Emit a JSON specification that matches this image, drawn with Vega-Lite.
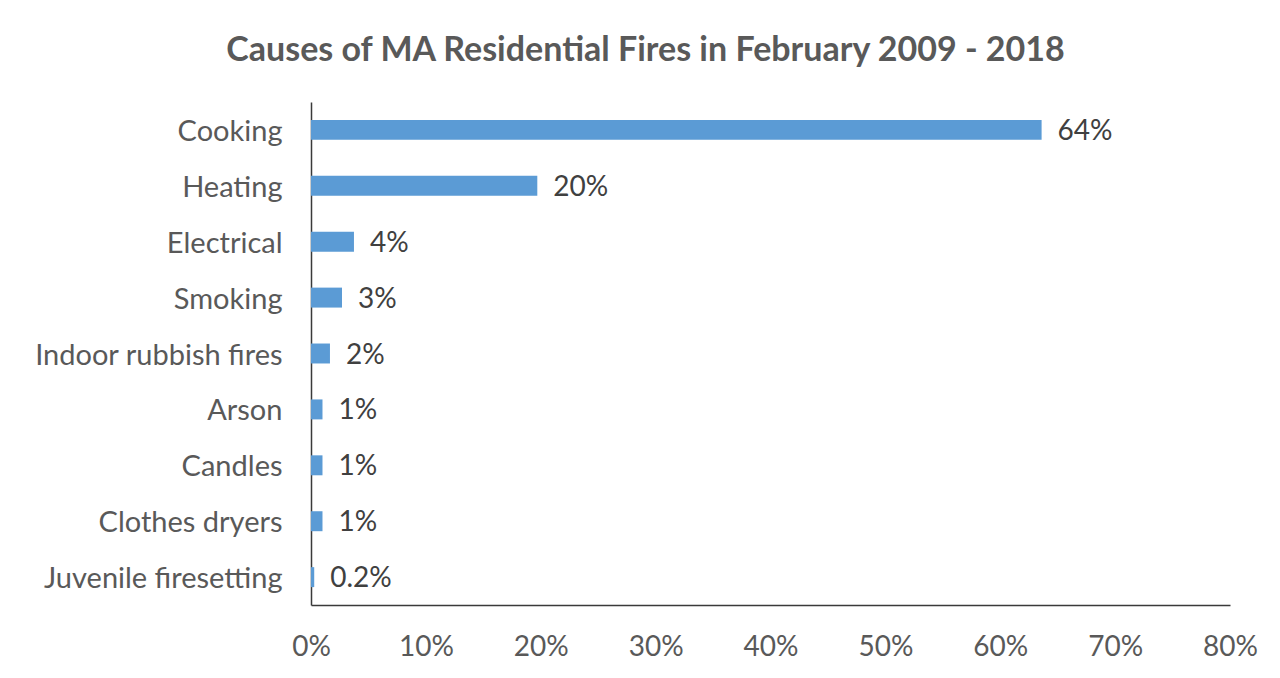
{
  "$schema": "https://vega.github.io/schema/vega-lite/v6.json",
  "width": 919,
  "height": 503,
  "autosize": {"type": "none"},
  "padding": {"left": 311, "top": 102, "right": 50, "bottom": 73},
  "background": "white",
  "title": {
    "text": "Causes of MA Residential Fires in February 2009 - 2018",
    "font": "Lato",
    "fontSize": 34,
    "fontWeight": "bold",
    "color": "#595959",
    "anchor": "middle",
    "baseline": "alphabetic",
    "offset": 7,
    "dx": -125
  },
  "data": {
    "values": [
      {"cause": "Cooking", "pct": 63.6, "label": "64%"},
      {"cause": "Heating", "pct": 19.7, "label": "20%"},
      {"cause": "Electrical", "pct": 3.74, "label": "4%"},
      {"cause": "Smoking", "pct": 2.7, "label": "3%"},
      {"cause": "Indoor rubbish fires", "pct": 1.65, "label": "2%"},
      {"cause": "Arson", "pct": 1.0, "label": "1%"},
      {"cause": "Candles", "pct": 1.0, "label": "1%"},
      {"cause": "Clothes dryers", "pct": 1.0, "label": "1%"},
      {"cause": "Juvenile firesetting", "pct": 0.28, "label": "0.2%"}
    ]
  },
  "encoding": {
    "y": {
      "field": "cause",
      "type": "nominal",
      "sort": null,
      "title": null,
      "scale": {"paddingInner": 0.643, "paddingOuter": 0.32},
      "axis": {
        "domain": true,
        "domainColor": "#3a3a3a",
        "domainWidth": 1.5,
        "ticks": false,
        "tickSize": 0,
        "grid": false,
        "labelPadding": 29,
        "labelOffset": 2,
        "labelLimit": 400,
        "labelFont": "Lato",
        "labelFontSize": 29,
        "labelColor": "#595959",
        "labelAlign": "right",
        "labelBaseline": "middle"
      }
    },
    "x": {
      "field": "pct",
      "type": "quantitative",
      "title": null,
      "scale": {"domain": [0, 80], "nice": false},
      "axis": {
        "values": [0, 10, 20, 30, 40, 50, 60, 70, 80],
        "labelExpr": "datum.value + '%'",
        "domain": true,
        "domainColor": "#3a3a3a",
        "domainWidth": 1.5,
        "ticks": false,
        "tickSize": 0,
        "grid": false,
        "labelPadding": 28,
        "labelFont": "Lato",
        "labelFontSize": 28,
        "labelColor": "#595959",
        "labelFlush": false,
        "labelBaseline": "top"
      }
    }
  },
  "layer": [
    {"mark": {"type": "bar", "color": "#5B9BD5"}},
    {
      "mark": {"type": "text", "align": "left", "baseline": "middle", "dx": 16, "dy": 2, "font": "Lato", "fontSize": 28, "color": "#404040"},
      "encoding": {"text": {"field": "label"}}
    }
  ],
  "config": {"view": {"stroke": null}}
}
